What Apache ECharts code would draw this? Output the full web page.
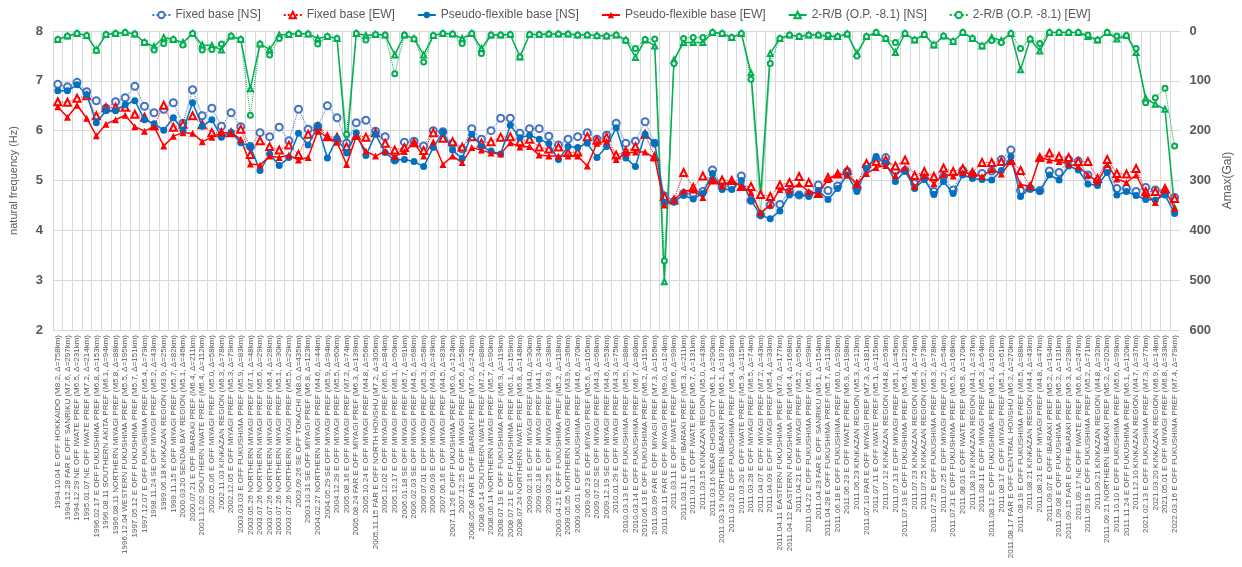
<!DOCTYPE html>
<html><head><meta charset="utf-8">
<script src="https://cdn.jsdelivr.net/npm/echarts@6/dist/echarts.min.js"></script>
<style>html,body{margin:0;padding:0;background:#fff}#c{width:1242px;height:567px}</style>
</head><body><div id="c"></div>
<script>
const categories = [
"1994.10.04 E OFF HOKKAIDO (M8.2, Δ=758km)","1994.12.28 FAR E OFF SANRIKU (M7.6, Δ=297km)","1994.12.29 NE OFF IWATE PREF (M6.5, Δ=231km)","1995.01.07 NE OFF IWATE PREF (M7.2, Δ=214km)","1996.02.17 E OFF FUKUSHIMA PREF (M6.8, Δ=153km)","1996.08.11 SOUTHERN AKITA PREF (M6.1, Δ=94km)","1996.08.11 NORTHERN MIYAGI PREF (M5.8, Δ=88km)","1996.12.04 WESTERN FUKUSHIMA PREF (M5.5, Δ=195km)","1997.05.12 E OFF FUKUSHIMA PREF (M5.7, Δ=151km)","1997.12.07 E OFF FUKUSHIMA PREF (M5.4, Δ=79km)",
"1998.11.24 SE OFF MIYAGI PREF (M5.2, Δ=43km)","1999.06.18 KINKAZAN REGION (M3.9, Δ=25km)","1999.11.15 E OFF MIYAGI PREF (M5.7, Δ=82km)","2000.03.20 SENDAI BAY REGION (M5.1, Δ=46km)","2000.07.21 E OFF IBARAKI PREF (M6.4, Δ=211km)","2001.12.02 SOUTHERN IWATE PREF (M6.4, Δ=112km)","2002.05.06 E OFF MIYAGI PREF (M5.0, Δ=58km)","2002.11.03 KINKAZAN REGION (M6.3, Δ=78km)","2002.12.05 E OFF MIYAGI PREF (M5.3, Δ=79km)","2003.03.03 E OFF FUKUSHIMA PREF (M5.9, Δ=83km)",
"2003.05.26 NORTHERN MIYAGI PREF (M7.1, Δ=48km)","2003.07.26 NORTHERN MIYAGI PREF (M5.6, Δ=29km)","2003.07.26 NORTHERN MIYAGI PREF (M6.4, Δ=28km)","2003.07.26 NORTHERN MIYAGI PREF (M5.1, Δ=30km)","2003.07.26 NORTHERN MIYAGI PREF (M5.5, Δ=29km)","2003.09.26 SE OFF TOKACHI (M8.0, Δ=435km)","2003.10.31 SE OFF MIYAGI PREF (M6.8, Δ=123km)","2004.02.27 NORTHERN MIYAGI PREF (M4.6, Δ=44km)","2004.05.29 SE OFF MIYAGI PREF (M5.9, Δ=94km)","2004.12.29 E OFF MIYAGI PREF (M5.5, Δ=60km)",
"2005.08.16 E OFF MIYAGI PREF (M7.2, Δ=74km)","2005.08.24 FAR E OFF MIYAGI PREF (M6.3, Δ=139km)","2005.10.24 E OFF MIYAGI PREF (M4.8, Δ=56km)","2005.11.15 FAR E OFF NORTH HONSHU (M7.2, Δ=305km)","2005.12.02 E OFF MIYAGI PREF (M6.6, Δ=84km)","2005.12.17 E OFF MIYAGI PREF (M6.1, Δ=60km)","2006.01.18 SE OFF MIYAGI PREF (M5.7, Δ=91km)","2006.02.03 SE OFF MIYAGI PREF (M4.5, Δ=68km)","2006.07.01 E OFF MIYAGI PREF (M5.3, Δ=58km)","2006.09.09 E OFF MIYAGI PREF (M4.9, Δ=49km)",
"2007.06.16 E OFF MIYAGI PREF (M4.5, Δ=83km)","2007.11.26 E OFF FUKUSHIMA PREF (M6.0, Δ=124km)","2007.12.25 E OFF MIYAGI PREF (M5.6, Δ=58km)","2008.05.08 FAR E OFF IBARAKI PREF (M7.0, Δ=242km)","2008.06.14 SOUTHERN IWATE PREF (M7.2, Δ=88km)","2008.06.14 NORTHERN MIYAGI PREF (M5.7, Δ=90km)","2008.07.19 E OFF FUKUSHIMA PREF (M6.9, Δ=119km)","2008.07.21 E OFF FUKUSHIMA PREF (M6.1, Δ=159km)","2008.07.24 NORTHERN IWATE PREF (M6.8, Δ=148km)","2009.02.16 E OFF MIYAGI PREF (M4.0, Δ=30km)",
"2009.02.18 E OFF MIYAGI PREF (M4.1, Δ=34km)","2009.03.25 E OFF MIYAGI PREF (M3.9, Δ=38km)","2009.04.21 E OFF FUKUSHIMA PREF (M5.2, Δ=118km)","2009.05.05 NORTHERN MIYAGI PREF (M3.9, Δ=36km)","2009.06.01 E OFF FUKUSHIMA PREF (M4.6, Δ=70km)","2009.06.23 E OFF MIYAGI PREF (M5.6, Δ=105km)","2009.07.02 SE OFF MIYAGI PREF (M4.3, Δ=68km)","2009.12.19 SE OFF MIYAGI PREF (M4.6, Δ=53km)","2010.01.29 E OFF MIYAGI PREF (M4.3, Δ=75km)","2010.03.13 E OFF FUKUSHIMA PREF (M5.5, Δ=88km)",
"2010.03.14 E OFF FUKUSHIMA PREF (M6.7, Δ=80km)","2010.06.13 E OFF FUKUSHIMA PREF (M6.2, Δ=115km)","2011.03.09 FAR E OFF MIYAGI PREF (M7.3, Δ=156km)","2011.03.11 FAR E OFF MIYAGI PREF (M9.0, Δ=124km)","2011.03.11 E OFF IWATE PREF (M6.6, Δ=99km)","2011.03.11 E OFF IBARAKI PREF (M5.3, Δ=211km)","2011.03.11 E OFF IWATE PREF (M6.7, Δ=131km)","2011.03.15 KINKAZAN REGION (M5.0, Δ=43km)","2011.03.16 NEAR CHOSHI CITY (M6.1, Δ=290km)","2011.03.19 NORTHERN IBARAKI PREF (M6.1, Δ=197km)",
"2011.03.20 E OFF FUKUSHIMA PREF (M5.4, Δ=83km)","2011.03.20 E OFF IWATE PREF (M5.9, Δ=115km)","2011.03.28 E OFF MIYAGI PREF (M6.5, Δ=74km)","2011.04.07 E OFF MIYAGI PREF (M7.2, Δ=43km)","2011.04.09 E OFF MIYAGI PREF (M5.4, Δ=33km)","2011.04.11 EASTERN FUKUSHIMA PREF (M7.0, Δ=177km)","2011.04.12 EASTERN FUKUSHIMA PREF (M6.4, Δ=168km)","2011.04.21 E OFF MIYAGI PREF (M5.2, Δ=65km)","2011.04.22 E OFF FUKUSHIMA PREF (M5.6, Δ=99km)","2011.04.23 FAR E OFF SANRIKU (M6.1, Δ=154km)",
"2011.04.28 E OFF FUKUSHIMA PREF (M5.7, Δ=113km)","2011.06.18 E OFF FUKUSHIMA PREF (M6.0, Δ=92km)","2011.06.23 E OFF IWATE PREF (M6.9, Δ=198km)","2011.06.23 KINKAZAN REGION (M5.3, Δ=12km)","2011.07.10 FAR E OFF MIYAGI PREF (M7.3, Δ=181km)","2011.07.11 E OFF IWATE PREF (M5.1, Δ=115km)","2011.07.12 KINKAZAN REGION (M4.8, Δ=63km)","2011.07.13 E OFF MIYAGI PREF (M5.1, Δ=45km)","2011.07.19 E OFF FUKUSHIMA PREF (M5.4, Δ=122km)","2011.07.23 KINKAZAN REGION (M6.4, Δ=74km)",
"2011.07.25 KINKAZAN REGION (M5.2, Δ=73km)","2011.07.25 E OFF FUKUSHIMA PREF (M6.3, Δ=78km)","2011.07.25 E OFF MIYAGI PREF (M5.2, Δ=54km)","2011.07.31 E OFF FUKUSHIMA PREF (M6.5, Δ=168km)","2011.08.01 E OFF IWATE PREF (M5.8, Δ=170km)","2011.08.10 KINKAZAN REGION (M4.1, Δ=37km)","2011.08.11 E OFF MIYAGI PREF (M5.3, Δ=64km)","2011.08.12 E OFF FUKUSHIMA PREF (M6.1, Δ=162km)","2011.08.17 E OFF MIYAGI PREF (M5.1, Δ=61km)","2011.08.17 FAR E OFF CENTRAL HONSHU (M6.2, Δ=270km)",
"2011.08.19 E OFF FUKUSHIMA PREF (M6.5, Δ=88km)","2011.08.21 KINKAZAN REGION (M4.4, Δ=43km)","2011.08.21 E OFF MIYAGI PREF (M4.8, Δ=47km)","2011.09.07 E OFF IBARAKI PREF (M5.2, Δ=194km)","2011.09.08 E OFF FUKUSHIMA PREF (M5.2, Δ=131km)","2011.09.15 FAR E OFF IBARAKI PREF (M6.3, Δ=238km)","2011.09.17 NE OFF IWATE PREF (M6.6, Δ=247km)","2011.09.19 E OFF FUKUSHIMA PREF (M5.2, Δ=71km)","2011.09.21 KINKAZAN REGION (M4.8, Δ=32km)","2011.09.21 NORTHERN IBARAKI PREF (M5.2, Δ=202km)",
"2011.10.10 E OFF FUKUSHIMA PREF (M5.6, Δ=99km)","2011.11.24 E OFF FUKUSHIMA PREF (M6.1, Δ=120km)","2011.12.10 KINKAZAN REGION (M4.7, Δ=37km)","2021.02.13 E OFF FUKUSHIMA PREF (M7.3, Δ=77km)","2021.03.20 KINKAZAN REGION (M6.9, Δ=14km)","2021.05.01 E OFF MIYAGI PREF (M6.8, Δ=33km)","2022.03.16 E OFF FUKUSHIMA PREF (M7.4, Δ=79km)"
];

const fixedNS = [6.93,6.88,6.97,6.78,6.60,6.45,6.58,6.66,6.89,6.49,6.36,6.43,6.56,6.15,6.82,6.30,6.45,6.09,6.36,6.08,5.68,5.96,5.88,6.07,5.80,6.43,6.03,6.09,6.50,6.26,5.75,6.16,6.21,5.99,5.88,5.41,5.77,5.79,5.69,6.00,5.98,5.73,5.63,6.04,5.83,6.00,6.25,6.25,5.95,6.04,6.04,5.89,5.71,5.83,5.88,5.96,5.83,5.91,6.15,5.75,5.79,6.18,5.75,4.69,4.58,4.74,4.74,4.78,5.21,4.88,4.90,5.09,4.60,4.31,4.51,4.52,4.78,4.71,4.73,4.91,4.80,4.89,5.18,4.84,5.28,5.42,5.46,5.21,5.20,4.94,5.06,4.78,5.08,4.81,5.20,5.11,5.14,5.19,5.42,5.61,4.80,4.84,4.80,5.19,5.16,5.42,5.39,5.11,4.98,5.23,4.84,4.84,4.78,4.86,4.81,4.76,4.66];
const fixedEW = [6.58,6.57,6.65,6.70,6.30,6.46,6.47,6.47,6.33,6.27,6.10,6.51,6.07,6.13,6.30,6.12,5.96,5.96,5.96,6.03,5.52,5.80,5.68,5.61,5.71,5.52,5.93,6.08,5.88,5.87,5.68,5.91,5.87,5.96,5.75,5.61,5.66,5.76,5.60,5.96,5.85,5.78,5.67,5.88,5.75,5.78,5.87,5.88,5.78,5.83,5.67,5.63,5.67,5.56,5.57,5.88,5.81,5.87,5.51,5.59,5.68,5.93,5.48,4.68,4.61,5.16,4.86,5.09,5.01,5.01,5.00,4.88,4.88,4.72,4.68,4.91,4.96,5.08,4.96,4.74,5.06,5.13,5.20,4.93,5.34,5.38,5.41,5.29,5.41,5.10,5.18,5.08,5.25,5.18,5.24,5.16,5.36,5.36,5.38,5.40,5.20,4.88,5.46,5.55,5.48,5.46,5.38,5.38,5.04,5.42,5.14,5.13,5.24,4.78,4.78,4.84,4.64];
const pseudoNS = [6.80,6.80,6.92,6.72,6.16,6.40,6.40,6.52,6.60,6.22,6.14,6.01,6.26,6.01,6.56,6.09,6.22,5.87,5.97,5.76,5.68,5.20,5.53,5.30,5.46,5.95,5.71,6.09,5.45,5.85,5.55,5.96,5.50,5.93,5.56,5.41,5.42,5.38,5.28,5.66,5.97,5.61,5.44,5.93,5.68,5.59,5.53,6.11,5.86,5.91,5.83,5.74,5.42,5.68,5.66,5.75,5.46,5.68,6.06,5.45,5.28,5.93,5.75,4.56,4.58,4.70,4.63,4.74,5.14,4.82,4.82,5.00,4.60,4.31,4.23,4.39,4.71,4.71,4.68,4.80,4.62,4.84,5.11,4.78,5.24,5.48,5.34,4.98,5.19,4.84,5.02,4.72,4.98,4.74,5.11,5.04,5.02,5.01,5.20,5.48,4.68,4.84,4.78,5.11,5.01,5.29,5.21,4.93,4.90,5.16,4.71,4.78,4.70,4.62,4.61,4.71,4.34];
const pseudoEW = [6.48,6.27,6.51,6.25,5.90,6.13,6.22,6.31,6.08,5.99,6.08,5.69,5.89,5.96,5.95,5.78,5.87,5.96,5.96,5.83,5.33,5.31,5.49,5.46,5.51,5.41,5.46,5.99,5.87,5.77,5.32,5.89,5.59,5.49,5.59,5.48,5.58,5.75,5.49,5.78,5.32,5.49,5.36,5.66,5.61,5.55,5.53,5.76,5.67,5.68,5.51,5.49,5.49,5.49,5.49,5.29,5.75,5.79,5.42,5.55,5.57,5.57,5.45,4.51,4.61,4.79,4.81,4.66,5.02,4.89,5.00,4.88,4.76,4.35,4.51,4.82,4.81,4.93,4.78,4.74,5.02,5.13,5.11,4.93,5.14,5.26,5.30,5.10,5.26,4.88,5.10,4.94,5.12,5.09,5.16,5.13,5.08,5.22,5.13,5.38,4.92,4.88,5.46,5.41,5.38,5.33,5.28,5.11,4.98,5.32,5.03,4.96,5.11,4.73,4.56,4.81,4.44];
const rbNS = [17,10,5,9,38,7,5,3,6,23,31,13,17,23,5,28,29,38,10,17,116,26,37,8,7,5,6,15,11,15,235,5,9,7,8,48,8,15,48,9,5,6,15,5,35,8,8,7,52,7,7,6,6,6,8,8,9,10,8,18,53,18,30,503,58,23,23,23,3,5,13,5,84,328,45,15,8,11,8,8,11,11,6,45,11,3,15,43,5,18,7,28,10,21,3,15,30,13,19,5,78,16,40,3,3,3,3,11,18,3,16,9,43,135,147,157,355];
const rbEW = [17,10,5,9,39,7,5,3,6,23,38,25,17,28,5,38,37,26,10,17,169,26,48,15,7,5,6,26,11,15,207,5,18,7,8,86,8,16,62,9,5,6,25,5,45,8,8,7,52,7,7,6,6,6,8,8,10,10,8,19,35,17,16,461,65,15,13,13,3,5,13,5,97,366,65,15,8,11,8,8,8,11,6,50,11,3,15,23,5,18,7,28,10,21,3,15,30,19,23,5,35,16,25,3,3,3,3,8,18,3,10,9,35,144,134,115,231];

const leftTicks = {min: 2, max: 8, interval: 1};
const rightTicks = {min: 0, max: 600, interval: 100};

const FONT = "'Liberation Sans Narrow','Liberation Sans',sans-serif";
const chart = echarts.init(document.getElementById('c'), null, {renderer: 'canvas'});
chart.setOption({
  animation: false,
  backgroundColor: '#fff',
  textStyle: {fontFamily: FONT},
  legend: {
    top: 4, left: 'center', itemGap: 22, itemWidth: 18, itemHeight: 8,
    textStyle: {fontSize: 12, color: '#595959', fontFamily: FONT},
    data: ['Fixed base [NS]','Fixed base [EW]','Pseudo-flexible base [NS]','Pseudo-flexible base [EW]','2-R/B (O.P. -8.1) [NS]','2-R/B (O.P. -8.1) [EW]']
  },
  grid: {left: 43, right: 52, top: 31, bottom: 237, containLabel: false},
  xAxis: {
    type: 'category', data: categories, boundaryGap: true,
    axisLine: {lineStyle: {color: '#d9d9d9'}},
    axisTick: {show: false},
    splitLine: {show: true, interval: 0, lineStyle: {color: '#d9d9d9', width: 1}},
    axisLabel: {rotate: 90, interval: 0, fontSize: 8, color: '#595959', margin: 5, fontFamily: FONT}
  },
  yAxis: [
    {type: 'value', min: leftTicks.min, max: leftTicks.max, interval: leftTicks.interval,
     name: 'natural frequency (Hz)', nameLocation: 'middle', nameGap: 34, nameRotate: 90,
     nameTextStyle: {fontSize: 11, color: '#595959'},
     axisLine: {show: false}, axisTick: {show: false},
     axisLabel: {fontSize: 13, color: '#595959', fontWeight: 'bold', margin: 10},
     splitLine: {lineStyle: {color: '#d9d9d9'}}},
    {type: 'value', min: rightTicks.min, max: rightTicks.max, interval: rightTicks.interval, inverse: true, position: 'right',
     name: 'Amax(Gal)', nameLocation: 'middle', nameGap: 36, nameRotate: 90,
     nameTextStyle: {fontSize: 12, color: '#595959'},
     axisLine: {show: false}, axisTick: {show: false},
     axisLabel: {fontSize: 13, color: '#595959', fontWeight: 'bold', margin: 10},
     splitLine: {show: false}}
  ],
  series: [
    {name: 'Fixed base [NS]', type: 'line', data: fixedNS, yAxisIndex: 0, symbol: 'emptyCircle', symbolSize: 7,
     itemStyle: {color: '#4472C4', borderWidth: 1}, lineStyle: {color: '#4472C4', width: 1, type: 'dotted'}, z: 3},
    {name: 'Fixed base [EW]', type: 'line', data: fixedEW, yAxisIndex: 0, symbol: 'emptyTriangle', symbolSize: 7,
     itemStyle: {color: '#FF0000', borderWidth: 1}, lineStyle: {color: '#FF0000', width: 1, type: 'dotted'}, z: 3},
    {name: 'Pseudo-flexible base [NS]', type: 'line', data: pseudoNS, yAxisIndex: 0, symbol: 'circle', symbolSize: 7,
     itemStyle: {color: '#0070C0'}, lineStyle: {color: '#0070C0', width: 1.5}, z: 4},
    {name: 'Pseudo-flexible base [EW]', type: 'line', data: pseudoEW, yAxisIndex: 0, symbol: 'triangle', symbolSize: 7,
     itemStyle: {color: '#FF0000'}, lineStyle: {color: '#FF0000', width: 1.5}, z: 4},
    {name: '2-R/B (O.P. -8.1) [NS]', type: 'line', data: rbNS, yAxisIndex: 1, symbol: 'emptyTriangle', symbolSize: 5,
     itemStyle: {color: '#00B050', borderWidth: 1}, lineStyle: {color: '#00B050', width: 1.5}, z: 2},
    {name: '2-R/B (O.P. -8.1) [EW]', type: 'line', data: rbEW, yAxisIndex: 1, symbol: 'emptyCircle', symbolSize: 5,
     itemStyle: {color: '#00B050', borderWidth: 1}, lineStyle: {color: '#00B050', width: 1, type: 'dotted'}, z: 2}
  ]
});
</script></body></html>
